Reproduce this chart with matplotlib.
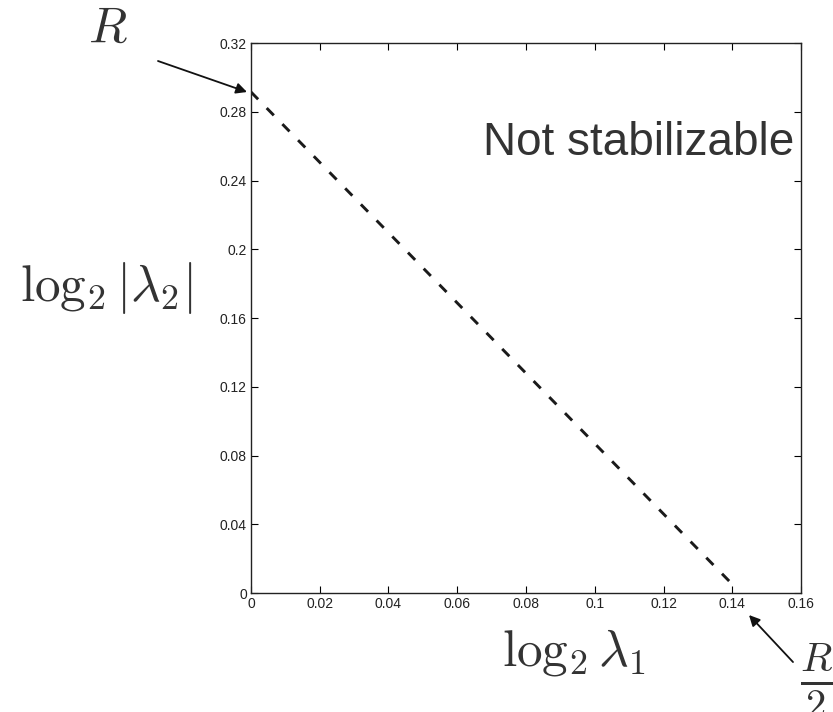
import matplotlib
matplotlib.use('Agg')
import matplotlib.pyplot as plt

plt.rcParams['mathtext.fontset'] = 'cm'
plt.rcParams['font.family'] = ['Liberation Sans', 'DejaVu Sans']

# boundary line
log2_l1 = [0.0, 0.1403]
log2_l2 = [0.2915, 0.0045]

xticks = [0, 0.02, 0.04, 0.06, 0.08, 0.1, 0.12, 0.14, 0.16]
yticks = [0, 0.04, 0.08, 0.12, 0.16, 0.2, 0.24, 0.28, 0.32]
xticklabels = ['0', '0.02', '0.04', '0.06', '0.08', '0.1', '0.12', '0.14', '0.16']
yticklabels = ['0', '0.04', '0.08', '0.12', '0.16', '0.2', '0.24', '0.28', '0.32']

fig = plt.figure(figsize=(8.33, 7.12), dpi=100)
ax = fig.add_axes([0.3013, 0.1671, 0.6603, 0.7725])

ax.plot(log2_l1, log2_l2, color='#1a1a1a', lw=2.1, dashes=(3.5, 4.2))

ax.set_xlim(0, 0.16)
ax.set_ylim(0, 0.32)
ax.set_xticks(xticks)
ax.set_xticklabels(xticklabels)
ax.set_yticks(yticks)
ax.set_yticklabels(yticklabels)
ax.tick_params(direction='in', top=True, right=True, length=5, width=0.8,
               labelsize=10, labelcolor='#222222', pad=3)
for s in ax.spines.values():
    s.set_linewidth(1.0)
    s.set_color('#222222')

ax.text(0.0675, 0.2548, 'Not stabilizable', fontsize=33, color='#333333',
        ha='left', va='baseline')

ax.text(-0.0422, 0.1775, r'$\log_2|\lambda_2|$', fontsize=37, color='#333333',
        ha='center', va='center', clip_on=False)
ax.text(0.0940, -0.0345, r'$\log_2\lambda_1$', fontsize=37, color='#333333',
        ha='center', va='center', clip_on=False)

# R and R/2 labels with their arrows (the fraction runs off the right edge, as in the original)
ax.text(-0.0416, 0.3281, r'$R$', fontsize=36, color='#333333',
        ha='center', va='center', clip_on=False)
ax.annotate('', xy=(-0.00116, 0.29149), xytext=(-0.02705, 0.30953),
            annotation_clip=False,
            arrowprops=dict(arrowstyle='-|>', color='#111111', lw=1.3,
                            mutation_scale=16, shrinkA=0, shrinkB=0))
ax.text(0.1598, -0.0510, r'$\frac{R}{2}$', fontsize=42, color='#333333',
        ha='left', va='center', clip_on=False)
ax.annotate('', xy=(0.14487, -0.0128), xytext=(0.15767, -0.04015),
            annotation_clip=False,
            arrowprops=dict(arrowstyle='-|>', color='#111111', lw=1.3,
                            mutation_scale=16, shrinkA=0, shrinkB=0))

fig.savefig('out.png', dpi=100)
